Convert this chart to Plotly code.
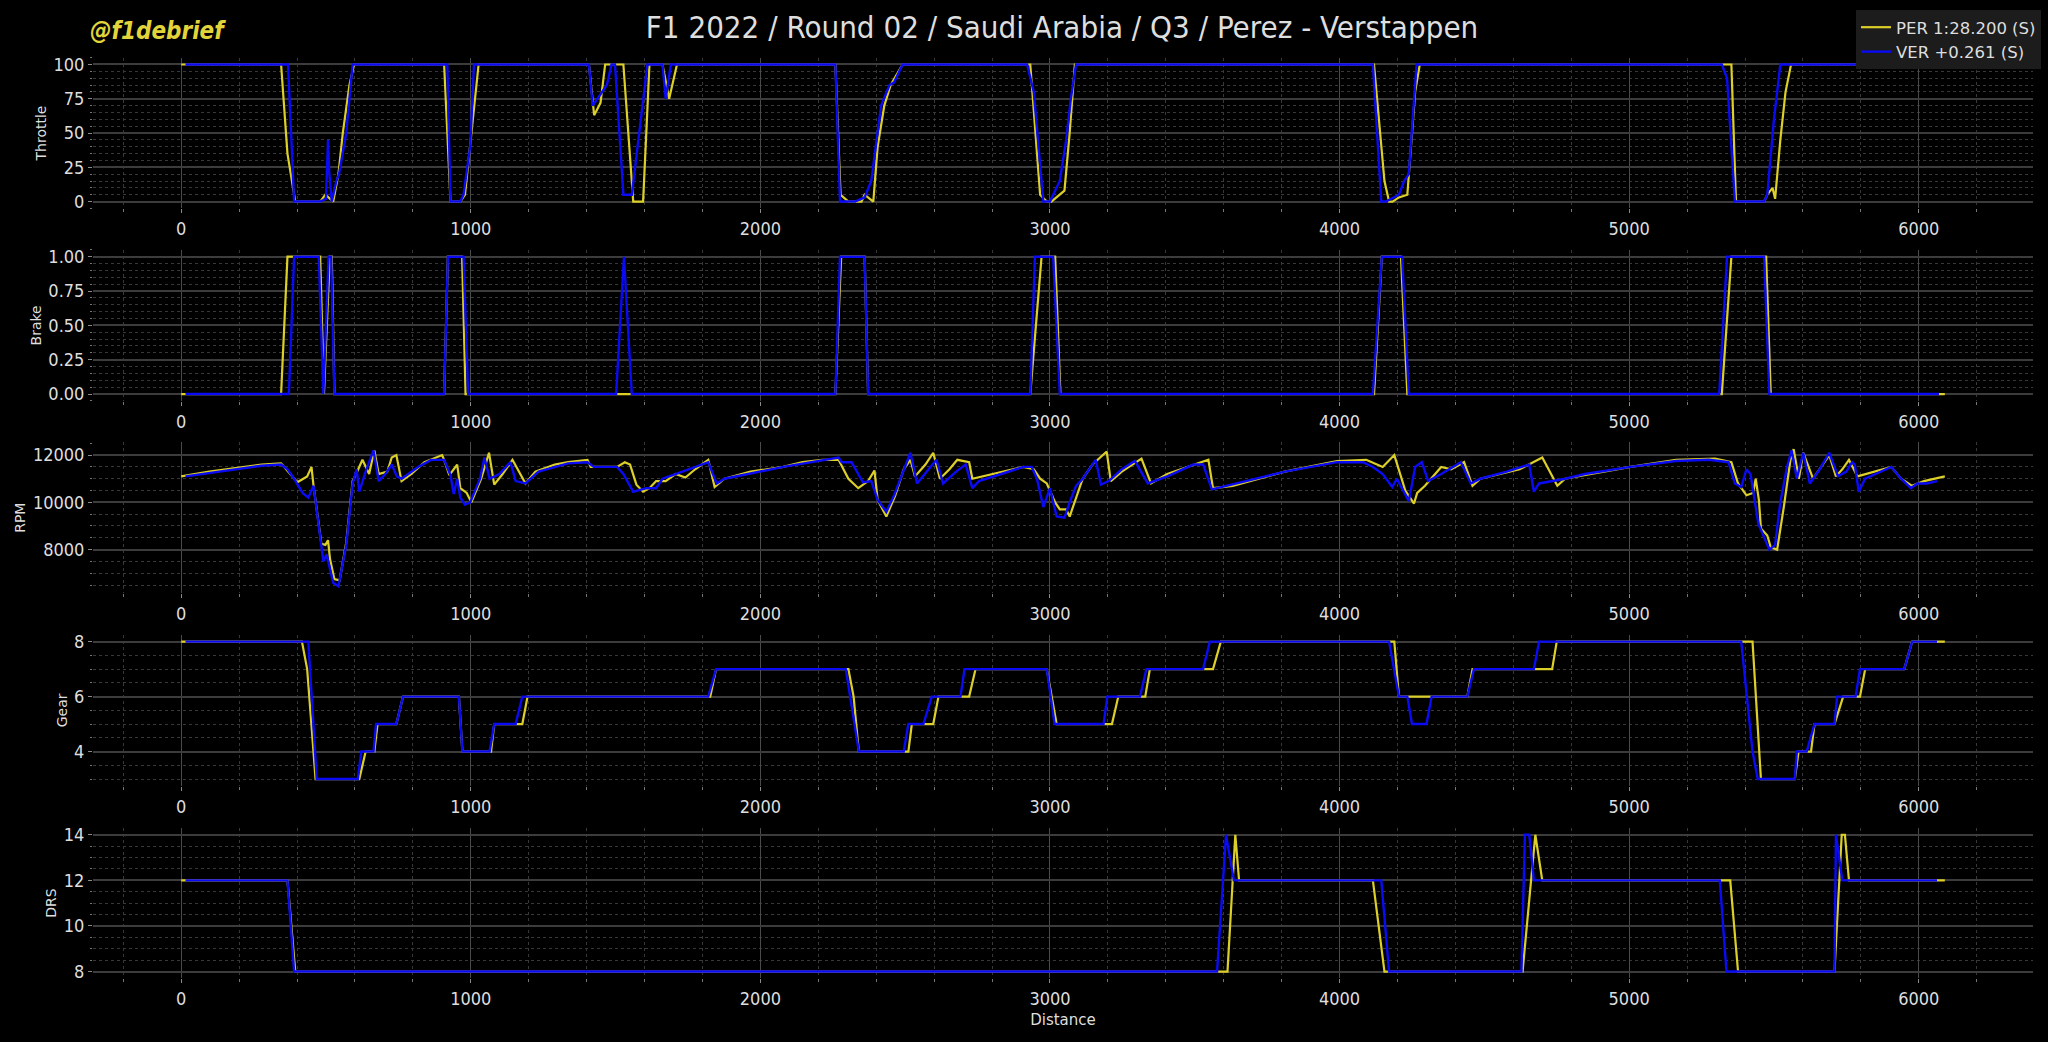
import plotly.graph_objects as go

# ---------------- data ----------------
TITLE = "F1 2022 / Round 02 / Saudi Arabia / Q3 / Perez - Verstappen"
WATERMARK = "@f1debrief"
PER_NAME = "PER 1:28.200 (S)"
VER_NAME = "VER +0.261 (S)"
PANEL_LABELS = ["Throttle", "Brake", "RPM", "Gear", "DRS"]
X_LABEL = "Distance"

# Throttle
PER_throttle_dist = [0, 345, 367, 394, 480, 498, 525, 543, 558, 581, 597, 908, 930, 964, 980, 1002, 1027,
                     1408, 1426, 1448, 1464, 1527, 1561, 1595, 1617, 1662, 1685, 1712, 2259, 2277, 2304, 2349,
                     2360, 2390, 2405, 2428, 2450, 2491, 2932, 2966, 2989, 3005, 3034, 3050, 3068, 3086, 4119,
                     4155, 4171, 4183, 4205, 4234, 4261, 4277, 5353, 5369, 5466, 5477, 5495, 5504, 5522, 5540,
                     5559, 6090]
PER_throttle = [100, 100, 35, 0, 0, 5, 0, 20, 50, 85, 100, 100, 0, 0, 5, 50, 100,
                100, 63, 72, 100, 100, 0, 0, 100, 100, 75, 100, 100, 5, 0, 0,
                5, 0, 40, 70, 85, 100, 100, 5, 0, 0, 5, 8, 50, 100, 100,
                15, 0, 0, 3, 5, 80, 100, 100, 0, 0, 5, 10, 2, 45, 80,
                100, 100]
VER_throttle_dist = [15, 369, 390, 480, 500, 507, 511, 520, 536, 545, 570, 592, 919, 930, 964, 975, 998, 1011,
                     1408, 1421, 1470, 1486, 1498, 1527, 1556, 1610, 1662, 1673, 1691, 2259, 2275, 2327, 2360,
                     2383, 2417, 2446, 2462, 2491, 2921, 2944, 2977, 3000, 3034, 3056, 3072, 3090, 4115, 4144,
                     4160, 4205, 4223, 4239, 4266, 5320, 5338, 5365, 5466, 5477, 5500, 5522, 6070]
VER_throttle = [100, 100, 0, 0, 2, 45, 22, 0, 15, 20, 50, 100, 100, 0, 0, 5, 40, 100,
                100, 70, 85, 100, 100, 5, 5, 100, 100, 75, 100, 100, 0, 0, 3,
                15, 70, 85, 87, 100, 100, 80, 0, 0, 15, 45, 75, 100, 100, 0,
                0, 5, 15, 20, 100, 100, 90, 0, 0, 5, 60, 100, 100]

# Brake
PER_brake_dist = [0, 345, 367, 480, 493, 513, 520, 529, 908, 921, 970, 982, 2259, 2279, 2360, 2372,
                  2932, 2971, 3018, 3036, 4119, 4146, 4212, 4234, 5320, 5353, 5473, 5489, 6090]
PER_brake = [0, 0, 1, 1, 0, 1, 1, 0, 0, 1, 1, 0, 0, 1, 1, 0,
             0, 1, 1, 0, 0, 1, 1, 0, 0, 1, 1, 0, 0]
VER_brake_dist = [15, 372, 390, 475, 491, 509, 518, 529, 908, 921, 975, 991, 1502, 1529, 1556, 2259, 2275,
                  2360, 2372, 2932, 2948, 3011, 3034, 4115, 4146, 4216, 4239, 5311, 5338, 5466, 5484, 6070]
VER_brake = [0, 0, 1, 1, 0, 1, 1, 0, 0, 1, 1, 0, 0, 1, 0, 0, 1,
             1, 0, 0, 1, 1, 0, 0, 1, 1, 0, 0, 1, 1, 0, 0]

# RPM
PER_rpm_dist = [0, 97, 277, 345, 401, 435, 450, 457, 484, 498, 507, 514, 529, 547, 570, 592, 604, 626, 649, 667,
                682, 712, 727, 743, 761, 795, 840, 874, 901, 908, 926, 953, 964, 986, 1002, 1036, 1063, 1081,
                1110, 1144, 1167, 1189, 1223, 1290, 1336, 1403, 1414, 1505, 1532, 1550, 1572, 1595, 1617, 1640,
                1673, 1707, 1741, 1775, 1820, 1842, 1876, 1966, 2079, 2146, 2214, 2270, 2304, 2338, 2372, 2394,
                2405, 2435, 2466, 2495, 2518, 2534, 2570, 2597, 2620, 2653, 2680, 2721, 2732, 2800, 2908,
                2944, 2966, 2989, 3018, 3034, 3056, 3068, 3090, 3113, 3147, 3196, 3210, 3248, 3316, 3349, 3405,
                3495, 3547, 3563, 3631, 3811, 3991, 4092, 4149, 4189, 4227, 4257, 4268, 4295, 4351, 4385, 4430,
                4459, 4486, 4622, 4700, 4752, 4779, 4869, 5005, 5162, 5297, 5353, 5376, 5405, 5428, 5437, 5448,
                5455, 5477, 5489, 5511, 5534, 5557, 5568, 5586, 5601, 5635, 5691, 5714, 5736, 5759, 5788, 5815,
                5905, 5939, 5977, 6018, 6090]
PER_rpm = [11100, 11300, 11600, 11650, 10850, 11100, 11500, 10700, 8250, 8200, 8400, 7600, 6750, 6700, 8300,
           10900, 11200, 11800, 11200, 12200, 11200, 11300, 11900, 12000, 10900, 11200, 11700, 11850, 12000,
           11800, 11150, 11600, 10600, 10400, 10000, 11000, 12100, 10750, 11200, 11800, 11300, 10800, 11300,
           11600, 11700, 11800, 11500, 11500, 11700, 11600, 10750, 10450, 10600, 10900, 10900, 11200, 11050,
           11400, 11800, 10650, 11000, 11300, 11500, 11700, 11800, 11800, 11000, 10600, 10900, 11350, 10100,
           9400, 10300, 11400, 11800, 11100, 11600, 12100, 11000, 11400, 11800, 11700, 11000, 11200, 11500,
           11400, 11000, 10800, 10000, 9700, 9700, 9400, 10150, 11000, 11600, 12150, 10900, 11300, 11850,
           10800, 11200, 11600, 11800, 10600, 10700, 11300, 11750, 11800, 11500, 12000, 10500, 9950, 10400,
           10700, 11500, 11400, 11700, 10700, 11000, 11400, 11900, 10700, 11000, 11200, 11500, 11800, 11850,
           11700, 10800, 10300, 10400, 11000, 10100, 8900, 8600, 8100, 8000, 9800, 11800, 12250, 11000, 12100,
           11000, 12000, 11100, 11400, 11800, 11100, 11200, 11500, 11000, 10700, 10900, 11100]
VER_rpm_dist = [15, 97, 277, 345, 367, 390, 419, 439, 457, 473, 491, 502, 514, 525, 543, 570, 592, 606, 615, 637,
                664, 682, 705, 727, 745, 761, 818, 863, 908, 930, 941, 953, 964, 980, 998, 1032, 1047, 1065,
                1099, 1137, 1155, 1189, 1234, 1336, 1403, 1425, 1505, 1527, 1561, 1606, 1640, 1662, 1707, 1775,
                1820, 1849, 1876, 2079, 2214, 2270, 2281, 2315, 2354, 2383, 2405, 2435, 2462, 2495, 2518, 2541,
                2574, 2608, 2631, 2676, 2709, 2732, 2755, 2908,
                2937, 2955, 2977, 3000, 3023, 3050, 3068, 3090, 3113, 3158, 3176, 3203, 3248, 3293, 3338, 3405,
                3495, 3529, 3559, 3608, 3811, 3991, 4081, 4115, 4149, 4182, 4198, 4239, 4261, 4284, 4306, 4351,
                4419, 4453, 4486, 4577, 4655, 4671, 4689, 4779, 4847, 5005, 5162, 5275, 5343, 5365, 5387, 5405,
                5419, 5446, 5466, 5484, 5504, 5522, 5545, 5561, 5579, 5601, 5624, 5658, 5691, 5721, 5750, 5770,
                5779, 5793, 5815, 5905, 5939, 5973, 5995, 6029, 6063]
VER_rpm = [11100, 11250, 11550, 11600, 11400, 11000, 10400, 10200, 10700, 9200, 7500, 7800, 7200, 6600, 6450,
           8200, 10800, 11400, 10450, 11300, 12200, 10900, 11200, 11600, 11100, 11000, 11500, 11800, 11800,
           11150, 10350, 11000, 10200, 9900, 10000, 11000, 11900, 11000, 11200, 11700, 10900, 10800, 11300,
           11650, 11700, 11500, 11500, 11200, 10450, 10600, 10600, 11000, 11200, 11500, 11700, 10800, 11000,
           11500, 11800, 11900, 11700, 11700, 10850, 10900, 10100, 9600, 10300, 11400, 12100, 10800, 11300,
           11800, 10800, 11300, 11600, 10600, 10900, 11500,
           11500, 11000, 9800, 10600, 9400, 9350, 10000, 10700, 11000, 11800, 10750, 10900, 11400, 11750,
           10800, 11100, 11600, 11600, 10550, 10700, 11300, 11700, 11700, 11500, 11200, 10650, 11000, 10050,
           11500, 11700, 10900, 11200, 11700, 10800, 11000, 11300, 11600, 10450, 10800, 11000, 11200, 11500,
           11750, 11800, 11700, 10800, 10650, 11400, 11200, 9100, 8500, 8000, 8200, 10000, 11500, 12200,
           11000, 12100, 10800, 11400, 12100, 11100, 11300, 11700, 11600, 10450, 11000, 11500, 11000, 10600,
           10800, 10800, 10900]

# Gear
PER_gear_dist = [0, 417, 435, 464, 615, 637, 667, 678, 743, 766, 959, 971, 1070, 1081, 1178, 1196, 1827, 1847,
                 2304, 2322, 2340, 2511, 2523, 2597, 2615, 2721, 2743, 2989, 3023, 3214, 3236, 3329, 3345, 3563,
                 3590, 4189, 4205, 4441, 4459, 4734, 4750, 5426, 5455, 5572, 5585, 5628, 5640, 5709, 5739, 5797,
                 5815, 5950, 5977, 6090]
PER_gear = [8, 8, 7, 3, 3, 4, 4, 5, 5, 6, 6, 4, 4, 5, 5, 6, 6, 7,
            7, 6, 4, 4, 5, 5, 6, 6, 7, 7, 5, 5, 6, 6, 7, 7,
            8, 8, 6, 6, 7, 7, 8, 8, 3, 3, 4, 4, 5, 5, 6, 6,
            7, 7, 8, 8]
VER_gear_dist = [15, 439, 468, 610, 622, 664, 673, 743, 766, 959, 971, 1065, 1081, 1155, 1178, 1820, 1847, 2295,
                 2340, 2495, 2511, 2563, 2592, 2691, 2705, 2989, 3016, 3185, 3198, 3311, 3333, 3529, 3552, 4171,
                 4205, 4234, 4250, 4300, 4318, 4441, 4464, 4671, 4689, 5387, 5426, 5444, 5572, 5579, 5613, 5640,
                 5709, 5718, 5782, 5797, 5950, 5977, 6063]
VER_gear = [8, 8, 3, 3, 4, 4, 5, 5, 6, 6, 4, 4, 5, 5, 6, 6, 7, 7,
            4, 4, 5, 5, 6, 6, 7, 7, 5, 5, 6, 6, 7, 7, 8, 8,
            6, 6, 5, 5, 6, 6, 7, 7, 8, 8, 4, 3, 3, 4, 4, 5,
            5, 6, 6, 7, 7, 8, 8]

# DRS
PER_drs_dist = [0, 367, 394, 3613, 3640, 3653, 4115, 4155, 4632, 4676, 4700, 5349, 5376, 5709, 5734, 5745, 5759, 6090]
PER_drs = [12, 12, 8, 8, 14, 12, 12, 8, 8, 14, 12, 12, 8, 8, 14, 14, 12, 12]
VER_drs_dist = [15, 367, 390, 3577, 3608, 3635, 4144, 4171, 4628, 4640, 4655, 4671, 5313, 5336, 5709, 5714, 5736, 6063]
VER_drs = [12, 12, 8, 8, 14, 12, 12, 8, 8, 14, 14, 12, 12, 8, 8, 14, 12, 12]

PER_COLOR = "#dccf2a"
VER_COLOR = "#0a0af5"

# ---------------- figure ----------------
W, H = 2048, 1042
ML, MR = 93, 15
NARROW = "Liberation Sans Narrow, DejaVu Sans Condensed, Arial Narrow, Liberation Sans, sans-serif"
LABELF = "DejaVu Sans, sans-serif"
TXT = "#dedede"

panels = [
    (PER_throttle_dist, PER_throttle, VER_throttle_dist, VER_throttle),
    (PER_brake_dist, PER_brake, VER_brake_dist, VER_brake),
    (PER_rpm_dist, PER_rpm, VER_rpm_dist, VER_rpm),
    (PER_gear_dist, PER_gear, VER_gear_dist, VER_gear),
    (PER_drs_dist, PER_drs, VER_drs_dist, VER_drs),
]
# pixel tops/bottoms of each panel
px_spans = [(54.0, 205.8), (247.5, 399.6), (441.3, 593.1), (635.0, 787.2), (829.5, 981.0)]
y_major = [25, 0.25, 2000, 2, 2]
y_minor = [5, 0.05, 500, 0.5, 0.5]
y_fmt = ["d", ".2f", "d", "d", "d"]

fig = go.Figure()
all_x = []
for i, (pd_, pv, vd, vv) in enumerate(panels):
    sfx = "" if i == 0 else str(i + 1)
    fig.add_trace(go.Scatter(x=pd_, y=pv, mode="lines", name=PER_NAME,
                             line=dict(color=PER_COLOR, width=2.2), showlegend=(i == 0),
                             xaxis="x" + sfx, yaxis="y" + sfx))
    fig.add_trace(go.Scatter(x=vd, y=vv, mode="lines", name=VER_NAME,
                             line=dict(color=VER_COLOR, width=2.4), showlegend=(i == 0),
                             xaxis="x" + sfx, yaxis="y" + sfx))
    all_x += list(pd_) + list(vd)

xmin, xmax = min(all_x), max(all_x)
xr = xmax - xmin
x_range = [xmin - 0.05 * xr, xmax + 0.05 * xr]

layout = dict(
    width=W, height=H,
    paper_bgcolor="#000000", plot_bgcolor="#000000",
    margin=dict(l=ML, r=MR, t=0, b=0),
    font=dict(family=NARROW, color=TXT, size=18),
    title=dict(text=TITLE, x=1062 / W, xanchor="center", y=1 - 27 / H, yanchor="middle",
               font=dict(family=NARROW, size=31, color=TXT)),
    legend=dict(x=(2041 - ML) / (W - ML - MR), xanchor="right", y=1 - 6 / H, yanchor="top",
                bgcolor="#1c1c1c", bordercolor="#1c1c1c", borderwidth=0, itemwidth=30,
                font=dict(family=LABELF, size=16.5, color=TXT), tracegroupgap=0),
    showlegend=True,
    annotations=[dict(text=WATERMARK, xref="paper", yref="paper", x=(88 - ML) / (W - ML - MR),
                      y=1 - 27 / H, xanchor="left", yanchor="middle", showarrow=False,
                      font=dict(family=NARROW, size=24, color="#e2d53a", weight="bold", style="italic"))],
)

for i, (pd_, pv, vd, vv) in enumerate(panels):
    sfx = "" if i == 0 else str(i + 1)
    top, bot = px_spans[i]
    dom = [1 - bot / H, 1 - top / H]
    vals = list(pv) + list(vv)
    vmin, vmax = min(vals), max(vals)
    vr = vmax - vmin
    yrange = [vmin - 0.05 * vr, vmax + 0.05 * vr]
    layout["xaxis" + sfx] = dict(
        domain=[0, 1], anchor="y" + sfx, range=x_range, dtick=1000, tick0=0,
        showgrid=True, gridcolor="#4a4a4a", gridwidth=1, zeroline=False, showline=False,
        ticks="outside", ticklen=4, tickcolor="#8a8a8a", tickwidth=1,
        tickfont=dict(family=NARROW, size=18, color=TXT),
        minor=dict(dtick=200, tick0=0, showgrid=True, gridcolor="#383838", griddash="dot",
                   gridwidth=1, ticks="outside", ticklen=3, tickcolor="#777777"),
    )
    layout["yaxis" + sfx] = dict(
        domain=dom, anchor="x" + sfx, range=yrange, dtick=y_major[i], tick0=0,
        tickformat=y_fmt[i], showgrid=True, gridcolor="#3c3c3c", gridwidth=2,
        zeroline=False, showline=False, ticks="outside", ticklen=4, tickcolor="#8a8a8a",
        tickfont=dict(family=NARROW, size=18, color=TXT),
        title=dict(text=PANEL_LABELS[i], font=dict(family=LABELF, size=14, color=TXT), standoff=3),
        minor=dict(dtick=y_minor[i], tick0=0, showgrid=True, gridcolor="#383838", griddash="dot",
                   gridwidth=1, ticks="outside", ticklen=2, tickcolor="#777777"),
    )

layout["xaxis5"]["title"] = dict(text=X_LABEL, font=dict(family=LABELF, size=15, color=TXT), standoff=6)

fig.update_layout(**layout)
fig.write_html("out.html", config={"displayModeBar": False},
               post_script="document.body.style.margin='0';document.body.style.background='#000';")
